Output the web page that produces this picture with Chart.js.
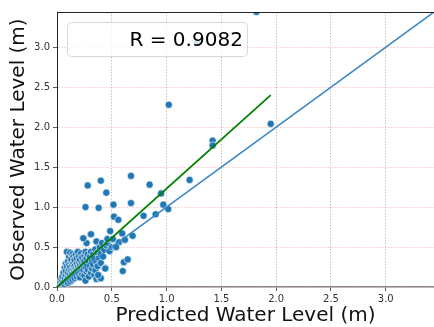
<!DOCTYPE html>
<html>
<head>
<meta charset="utf-8">
<script src="https://cdn.jsdelivr.net/npm/chart.js@4"></script>
<style>
  html, body { margin: 0; padding: 0; background: #fff; overflow: hidden; }
  #wrap { width: 434px; height: 327px; }
  canvas { display: block; }
</style>
</head>
<body>
<div id="wrap"><canvas id="myChart" width="434" height="327"></canvas></div>
<script>
// predicted (x) and observed (y) water levels
const predicted = [
  0.01,0.02,0.03,0.03,0.04,0.04,0.05,0.05,0.06,0.06,0.07,0.07,0.07,0.08,0.08,0.08,0.08,0.09,0.09,0.09,
  0.10,0.10,0.10,0.10,0.11,0.11,0.11,0.11,0.12,0.12,0.12,0.12,0.13,0.13,0.13,0.13,0.14,0.14,0.14,0.14,
  0.15,0.15,0.15,0.15,0.16,0.16,0.16,0.16,0.17,0.17,0.17,0.18,0.18,0.18,0.18,0.19,0.19,0.19,0.20,0.20,
  0.20,0.20,0.21,0.21,0.21,0.22,0.22,0.22,0.23,0.23,0.23,0.24,0.24,0.24,0.25,0.25,0.25,0.26,0.26,0.26,
  0.27,0.27,0.27,0.27,0.28,0.28,0.29,0.29,0.30,0.30,0.31,0.31,0.31,0.32,0.32,0.33,0.33,0.34,0.34,0.35,
  0.35,0.36,0.36,0.36,0.37,0.37,0.38,0.38,0.39,0.39,0.40,0.40,0.41,0.42,0.43,0.44,0.45,0.46,0.46,0.48,
  0.50,
  // scattered points above the cluster
  0.28,0.40,0.45,0.675,0.845,0.95,0.26,0.38,0.515,0.675,0.97,1.015,0.52,0.56,0.79,0.90,0.485,0.31,0.595,0.69,
  0.24,0.46,0.61,0.645,0.60,0.44,0.40,0.53,0.565,0.51,0.62,0.54,0.375,
  1.21,1.42,1.42,1.95,1.02,1.28,1.82
];
const observed = [
  0.00,0.03,0.01,0.06,0.02,0.10,0.04,0.13,0.07,0.18,0.03,0.11,0.24,0.06,0.15,0.20,0.29,0.09,0.26,0.44,
  0.05,0.13,0.18,0.32,0.10,0.22,0.28,0.38,0.07,0.16,0.25,0.43,0.12,0.20,0.31,0.35,0.09,0.17,0.27,0.41,
  0.14,0.22,0.30,0.38,0.11,0.19,0.26,0.34,0.16,0.23,0.40,0.13,0.21,0.29,0.36,0.18,0.25,0.44,0.15,0.22,
  0.31,0.38,0.12,0.27,0.34,0.19,0.24,0.42,0.16,0.30,0.37,0.21,0.27,0.61,0.14,0.33,0.40,0.08,0.24,0.44,
  0.19,0.29,0.36,0.55,0.22,0.41,0.13,0.32,0.26,0.38,0.18,0.44,0.66,0.23,0.33,0.28,0.41,0.15,0.36,0.21,
  0.47,0.10,0.31,0.57,0.26,0.43,0.15,0.36,0.11,0.50,0.30,0.42,0.55,0.38,0.47,0.24,0.52,0.55,0.60,0.45,
  0.50,
  1.27,1.33,1.18,1.39,1.28,1.17,1.00,0.99,1.03,1.05,1.03,0.975,0.88,0.84,0.89,0.91,0.70,0.66,0.67,0.64,
  0.61,0.60,0.31,0.345,0.20,0.23,0.11,0.50,0.56,0.60,0.59,0.50,0.15,
  1.34,1.83,1.77,2.04,2.28,3.05,3.44
];

// 1:1 line and fitted line ends
const oneToOneX = [0, 3.44];
const oneToOneY = [0, 3.44];
const fitX = [0.0, 1.95];
const fitY = [0.0, 2.40];

const rText = 'R = 0.9082';
const tickVals = [0, 0.5, 1.0, 1.5, 2.0, 2.5, 3.0];
const axisMax = 3.44;

const scatterPts = predicted.map((x, i) => ({x: x, y: observed[i]}));

// legend box inside the plot + top spine, drawn like matplotlib
const overlay = {
  id: 'overlay',
  afterDatasetsDraw(chart) {
    const c = chart.ctx;
    const a = chart.chartArea;
    c.save();
    // top spine
    c.strokeStyle = '#222';
    c.lineWidth = 1;
    c.beginPath();
    c.moveTo(a.left, a.top + 0.5);
    c.lineTo(a.right, a.top + 0.5);
    c.stroke();
    // legend box
    const bx = a.left + 10.5, by = a.top + 10.5, bw = 180, bh = 34, r = 4;
    c.beginPath();
    c.moveTo(bx + r, by);
    c.arcTo(bx + bw, by, bx + bw, by + bh, r);
    c.arcTo(bx + bw, by + bh, bx, by + bh, r);
    c.arcTo(bx, by + bh, bx, by, r);
    c.arcTo(bx, by, bx + bw, by, r);
    c.closePath();
    c.fillStyle = 'rgba(255,255,255,0.8)';
    c.fill();
    c.strokeStyle = '#d8d8d8';
    c.stroke();
    c.fillStyle = '#000';
    c.font = '20px "DejaVu Sans"';
    c.textBaseline = 'middle';
    c.fillText(rText, bx + 62, by + bh / 2 + 1);
    c.restore();
  }
};

const ctx = document.getElementById('myChart');
new Chart(ctx, {
  type: 'scatter',
  data: {
    datasets: [
      {
        label: 'data',
        data: scatterPts,
        backgroundColor: '#1f77b4',
        borderColor: '#ffffff',
        borderWidth: 0.6,
        pointRadius: 3.6,
        order: 3
      },
      {
        label: '1:1',
        type: 'line',
        data: oneToOneX.map((x, i) => ({x: x, y: oneToOneY[i]})),
        borderColor: '#3a86c4',
        borderWidth: 1.5,
        pointRadius: 0,
        order: 2
      },
      {
        label: 'fit',
        type: 'line',
        data: fitX.map((x, i) => ({x: x, y: fitY[i]})),
        borderColor: '#008000',
        borderWidth: 1.8,
        pointRadius: 0,
        order: 1
      }
    ]
  },
  options: {
    responsive: false,
    animation: false,
    layout: { autoPadding: false, padding: { top: 12, right: 0, left: 0, bottom: 0 } },
    plugins: { legend: { display: false }, tooltip: { enabled: false } },
    scales: {
      x: {
        type: 'linear',
        min: 0, max: axisMax,
        afterBuildTicks: s => { s.ticks = tickVals.map(v => ({value: v})); },
        afterFit: s => { s.height = 40; s.paddingRight = 0; s.paddingLeft = 0; },
        ticks: {
          callback: v => v.toFixed(1),
          font: { family: 'DejaVu Sans', size: 10 },
          color: '#333',
          padding: 2,
          maxRotation: 0
        },
        grid: {
          color: 'rgba(110,110,110,0.5)',
          lineWidth: 0.8,
          tickColor: '#333',
          tickLength: 4,
          drawTicks: true
        },
        border: { display: true, color: '#8a8a8a', width: 1.5, dash: [1.5, 1.5] },
        title: {
          display: true,
          text: 'Predicted Water Level (m)',
          font: { family: 'DejaVu Sans', size: 20 },
          color: '#111',
          padding: { top: 0, bottom: -1 }
        }
      },
      y: {
        type: 'linear',
        min: 0, max: axisMax,
        afterBuildTicks: s => { s.ticks = tickVals.map(v => ({value: v})); },
        afterFit: s => { s.width = 57; s.paddingTop = 0; s.paddingBottom = 0; },
        ticks: {
          callback: v => v.toFixed(1),
          font: { family: 'DejaVu Sans', size: 10 },
          color: '#333',
          padding: 3
        },
        grid: {
          color: 'rgba(255,0,0,0.28)',
          lineWidth: 0.8,
          tickColor: '#333',
          tickLength: 4
        },
        border: { display: true, color: '#222', width: 1, dash: [1.5, 1.5] },
        title: {
          display: true,
          text: 'Observed Water Level (m)',
          font: { family: 'DejaVu Sans', size: 20 },
          color: '#111',
          padding: { top: 7, bottom: 0 }
        }
      }
    }
  },
  plugins: [overlay]
});
</script>
</body>
</html>
